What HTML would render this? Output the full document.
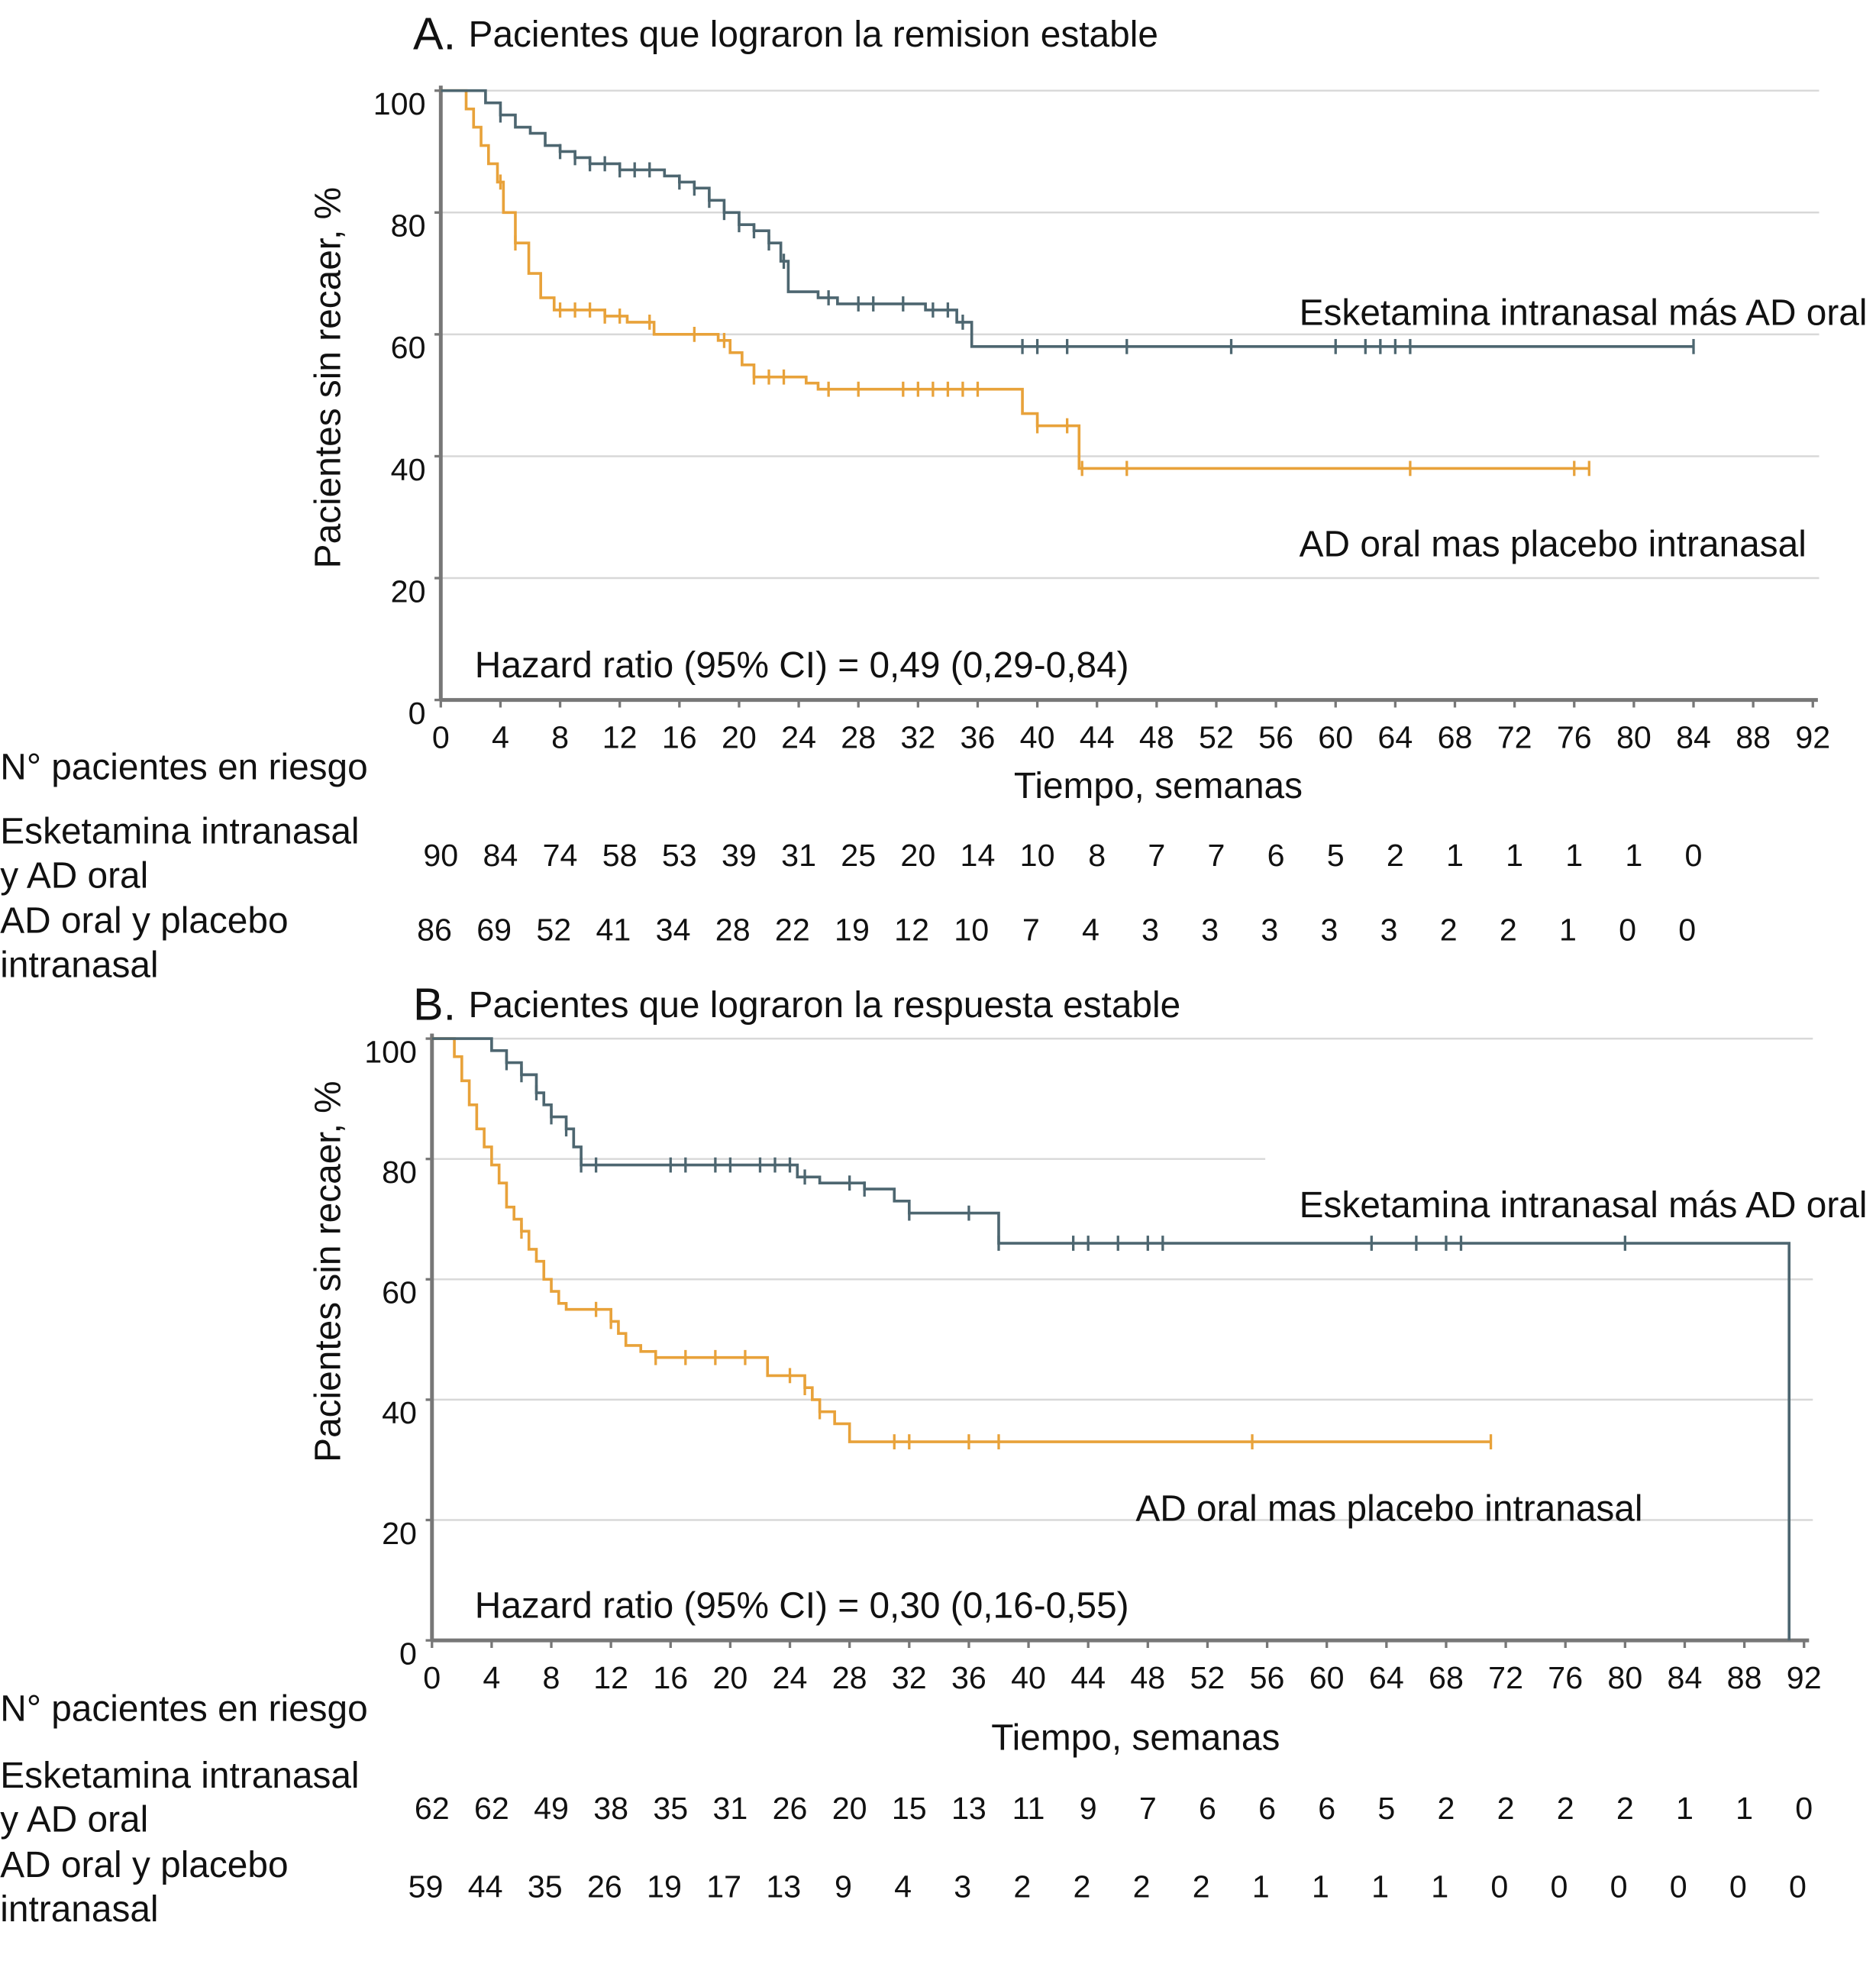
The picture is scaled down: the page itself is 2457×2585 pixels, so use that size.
<!DOCTYPE html>
<html><head><meta charset="utf-8"><style>
html,body{margin:0;padding:0;background:#fff}
svg{display:block}
text{font-family:"Liberation Sans",Arial,sans-serif;fill:#111}
</style></head><body>
<svg id="chart" width="2457" height="2585" viewBox="0 0 1490 1568" xmlns="http://www.w3.org/2000/svg">
<g id="root"></g>
</svg>
<script>
// ---- Panel A data ----
const aEskSteps = [[0,100],[3,98],[4,96],[5,94],[6,93],[7,91],[8,90],[9,89],[10,88],[12,87],[15,86],[16,85],[17,84],[18,82],[19,80],[20,78],[21,77],[22,75],[22.8,72],[23.3,67],[25.3,66],[26.6,65],[32.5,64],[34.6,62],[35.6,58]];
const aEskEnd = 84;
const aEskCens = [4,8,9,10,11,12,13,14,16,17,18,19,20,21,22,23,26,28,29,31,33,34,35,39,40,42,46,53,60,62,63,64,65,84];
const aPlaSteps = [[0,100],[1.7,97],[2.2,94],[2.7,91],[3.2,88],[3.8,85],[4.2,80],[5,75],[5.9,70],[6.7,66],[7.6,64],[11,63],[12.5,62],[14.3,60],[18.6,59],[19.4,57],[20.2,55],[21,53],[24.5,52],[25.3,51],[39,47],[40,45],[42.8,38]];
const aPlaEnd = 77;
const aPlaCens = [4,5,8,9,10,11,12,14,17,19,21,22,23,26,28,31,32,33,34,35,36,40,42,43,46,65,76,77];
// ---- Panel B data ----
const bEskSteps = [[0,100],[4,98],[5,96],[6,94],[7,91],[7.5,89],[8,87],[9,85],[9.5,82],[10,79],[24.5,77],[26,76],[29,75],[31,73],[32,71],[38,66],[91,0]];
const bEskEnd = 91;
const bEskCens = [5,6,7,8,9,10,11,16,17,19,20,22,23,24,25,28,29,32,36,38,43,44,46,48,49,63,66,68,69,80];
const bPlaSteps = [[0,100],[1.5,97],[2,93],[2.5,89],[3,85],[3.5,82],[4,79],[4.5,76],[5,72],[5.5,70],[6,68],[6.5,65],[7,63],[7.5,60],[8,58],[8.5,56],[9,55],[12,53],[12.5,51],[13,49],[14,48],[15,47],[22.5,44],[25,42],[25.5,40],[26,38],[27,36],[28,33]];
const bPlaEnd = 71;
const bPlaCens = [6,11,12,15,17,19,21,24,25,26,31,32,36,38,55,71];
const xTicks = [0,4,8,12,16,20,24,28,32,36,40,44,48,52,56,60,64,68,72,76,80,84,88,92];
const yTicks = [0,20,40,60,80,100];
const aRiskEsk = [90,84,74,58,53,39,31,25,20,14,10,8,7,7,6,5,2,1,1,1,1,0];
const aRiskPla = [86,69,52,41,34,28,22,19,12,10,7,4,3,3,3,3,3,2,2,1,0,0];
const bRiskEsk = [62,62,49,38,35,31,26,20,15,13,11,9,7,6,6,6,5,2,2,2,2,1,1,0];
const bRiskPla = [59,44,35,26,19,17,13,9,4,3,2,2,2,2,1,1,1,1,0,0,0,0,0,0];

const NS="http://www.w3.org/2000/svg";
const root=document.getElementById('root');
function mk(tag,attrs,parent){const e=document.createElementNS(NS,tag);for(const k in attrs)e.setAttribute(k,attrs[k]);(parent||root).appendChild(e);return e;}
function txt(x,y,s,size,anchor,parent){const t=mk('text',{x:x,y:y,'font-size':size,'text-anchor':anchor||'start'},parent);t.textContent=s;return t;}
const FS=29;
function panel(p){
  const g=mk('g',{});
  
  
  const X=v=>p.x0+v*(p.x1-p.x0)/92, Y=v=>p.y0-v*(p.y0-p.y100)/100;
  yTicks.forEach(v=>{ if(v>0){const ge=(p.gridEnds&&p.gridEnds[v])||p.gridEnd;
    const l=mk('line',{x1:p.x0,x2:ge,y1:Y(v),y2:Y(v),stroke:'#d8d8d8','stroke-width':1.5},g);
    }
    const t=txt(p.x0-12,Y(v)+19,String(v),25,'end',g);
    
    mk('line',{x1:p.x0-5,x2:p.x0,y1:Y(v),y2:Y(v),stroke:'#777','stroke-width':2},g);
  });
  const ya=mk('line',{x1:p.x0,x2:p.x0,y1:p.y100-4,y2:p.y0,stroke:'#777','stroke-width':3},g);
  
  const xa=mk('line',{x1:p.x0,x2:p.x1+4,y1:p.y0,y2:p.y0,stroke:'#777','stroke-width':3},g);
  
  xTicks.forEach(v=>{mk('line',{x1:X(v),x2:X(v),y1:p.y0,y2:p.y0+6,stroke:'#777','stroke-width':2},g);
    const t=txt(X(v),p.y0+38,String(v),25,'middle',g);});
  function curve(steps,end,cens,color,name){
    let d='M'+X(steps[0][0])+','+Y(steps[0][1]);
    for(let i=1;i<steps.length;i++){d+=' H'+X(steps[i][0])+' V'+Y(steps[i][1]);}
    const last=steps[steps.length-1];
    if(X(end)>X(last[0])) d+=' H'+X(end);
    const path=mk('path',{d:d,fill:'none',stroke:color,'stroke-width':2.2},g);
    
    const surv=t=>{let s=steps[0][1];steps.forEach(q=>{if(q[0]<=t)s=q[1];});return s;};
    cens.forEach(c=>{const yy=Y(surv(c));const m=mk('line',{x1:X(c),x2:X(c),y1:yy-6,y2:yy+6,stroke:color,'stroke-width':2},g);
      });
  }
  curve(p.plaSteps,p.plaEnd,p.plaCens,'#e8a23a','placebo');
  curve(p.eskSteps,p.eskEnd,p.eskCens,'#4d6670','esketamine');
  let t=txt(p.letterX,p.titleY+2,p.letter,36,'start',g);
  t=txt(372,p.titleY,p.title,FS,'start',g);
  t=mk('text',{x:0,y:0,'font-size':FS,'text-anchor':'middle',transform:'translate(270,'+p.yTitleC+') rotate(-90)'},g);
  t.textContent='Pacientes sin recaer, %';
  t=txt(p.eskLab[0],p.eskLab[1],'Esketamina intranasal más AD oral',FS,'start',g);
  t=txt(p.plaLab[0],p.plaLab[1],'AD oral mas placebo intranasal',FS,'start',g);
  t=txt(377,p.y0-18,p.hr,FS,'start',g);
  t=txt(p.xtitleX,p.xtitleY,'Tiempo, semanas',FS,'middle',g);
  t=txt(0,p.riskHead,'N° pacientes en riesgo',FS,'start',g);
  t=txt(0,p.labY[0],'Esketamina intranasal',FS,'start',g);
  t=txt(0,p.labY[1],'y AD oral',FS,'start',g);
  t=txt(0,p.labY[2],'AD oral y placebo',FS,'start',g);
  t=txt(0,p.labY[3],'intranasal',FS,'start',g);
  p.risk1.forEach((v,i)=>{const c=txt(X(xTicks[i]),p.r1,String(v),25,'middle',g);});
  p.risk2.forEach((v,i)=>{const c=txt(X(xTicks[i])-5,p.r2,String(v),25,'middle',g);});
}
panel({name:'panel-a',letter:'A.',title:'Pacientes que lograron la remision estable',x0:350,x1:1440,y0:556,y100:72,gridEnd:1445,
  letterX:328,titleY:37,yTitleC:300,
  eskSteps:aEskSteps,eskEnd:aEskEnd,eskCens:aEskCens,plaSteps:aPlaSteps,plaEnd:aPlaEnd,plaCens:aPlaCens,
  eskLab:[1032,258],plaLab:[1032,442],hr:'Hazard ratio (95% CI) = 0,49 (0,29-0,84)',xtitleX:920,xtitleY:634,
  riskHead:619,labY:[670,705,741,776],r1:688,r2:747,risk1:aRiskEsk,risk2:aRiskPla});
panel({name:'panel-b',letter:'B.',title:'Pacientes que lograron la respuesta estable',x0:343,x1:1433,y0:1303,y100:825,gridEnd:1440,
  gridEnds:{80:1005},letterX:328,titleY:808,yTitleC:1010,
  eskSteps:bEskSteps,eskEnd:bEskEnd,eskCens:bEskCens,plaSteps:bPlaSteps,plaEnd:bPlaEnd,plaCens:bPlaCens,
  eskLab:[1032,967],plaLab:[902,1208],hr:'Hazard ratio (95% CI) = 0,30 (0,16-0,55)',xtitleX:902,xtitleY:1390,
  riskHead:1367,labY:[1420,1455,1491,1526],r1:1445,r2:1507,risk1:bRiskEsk,risk2:bRiskPla});
</script>
</body></html>
